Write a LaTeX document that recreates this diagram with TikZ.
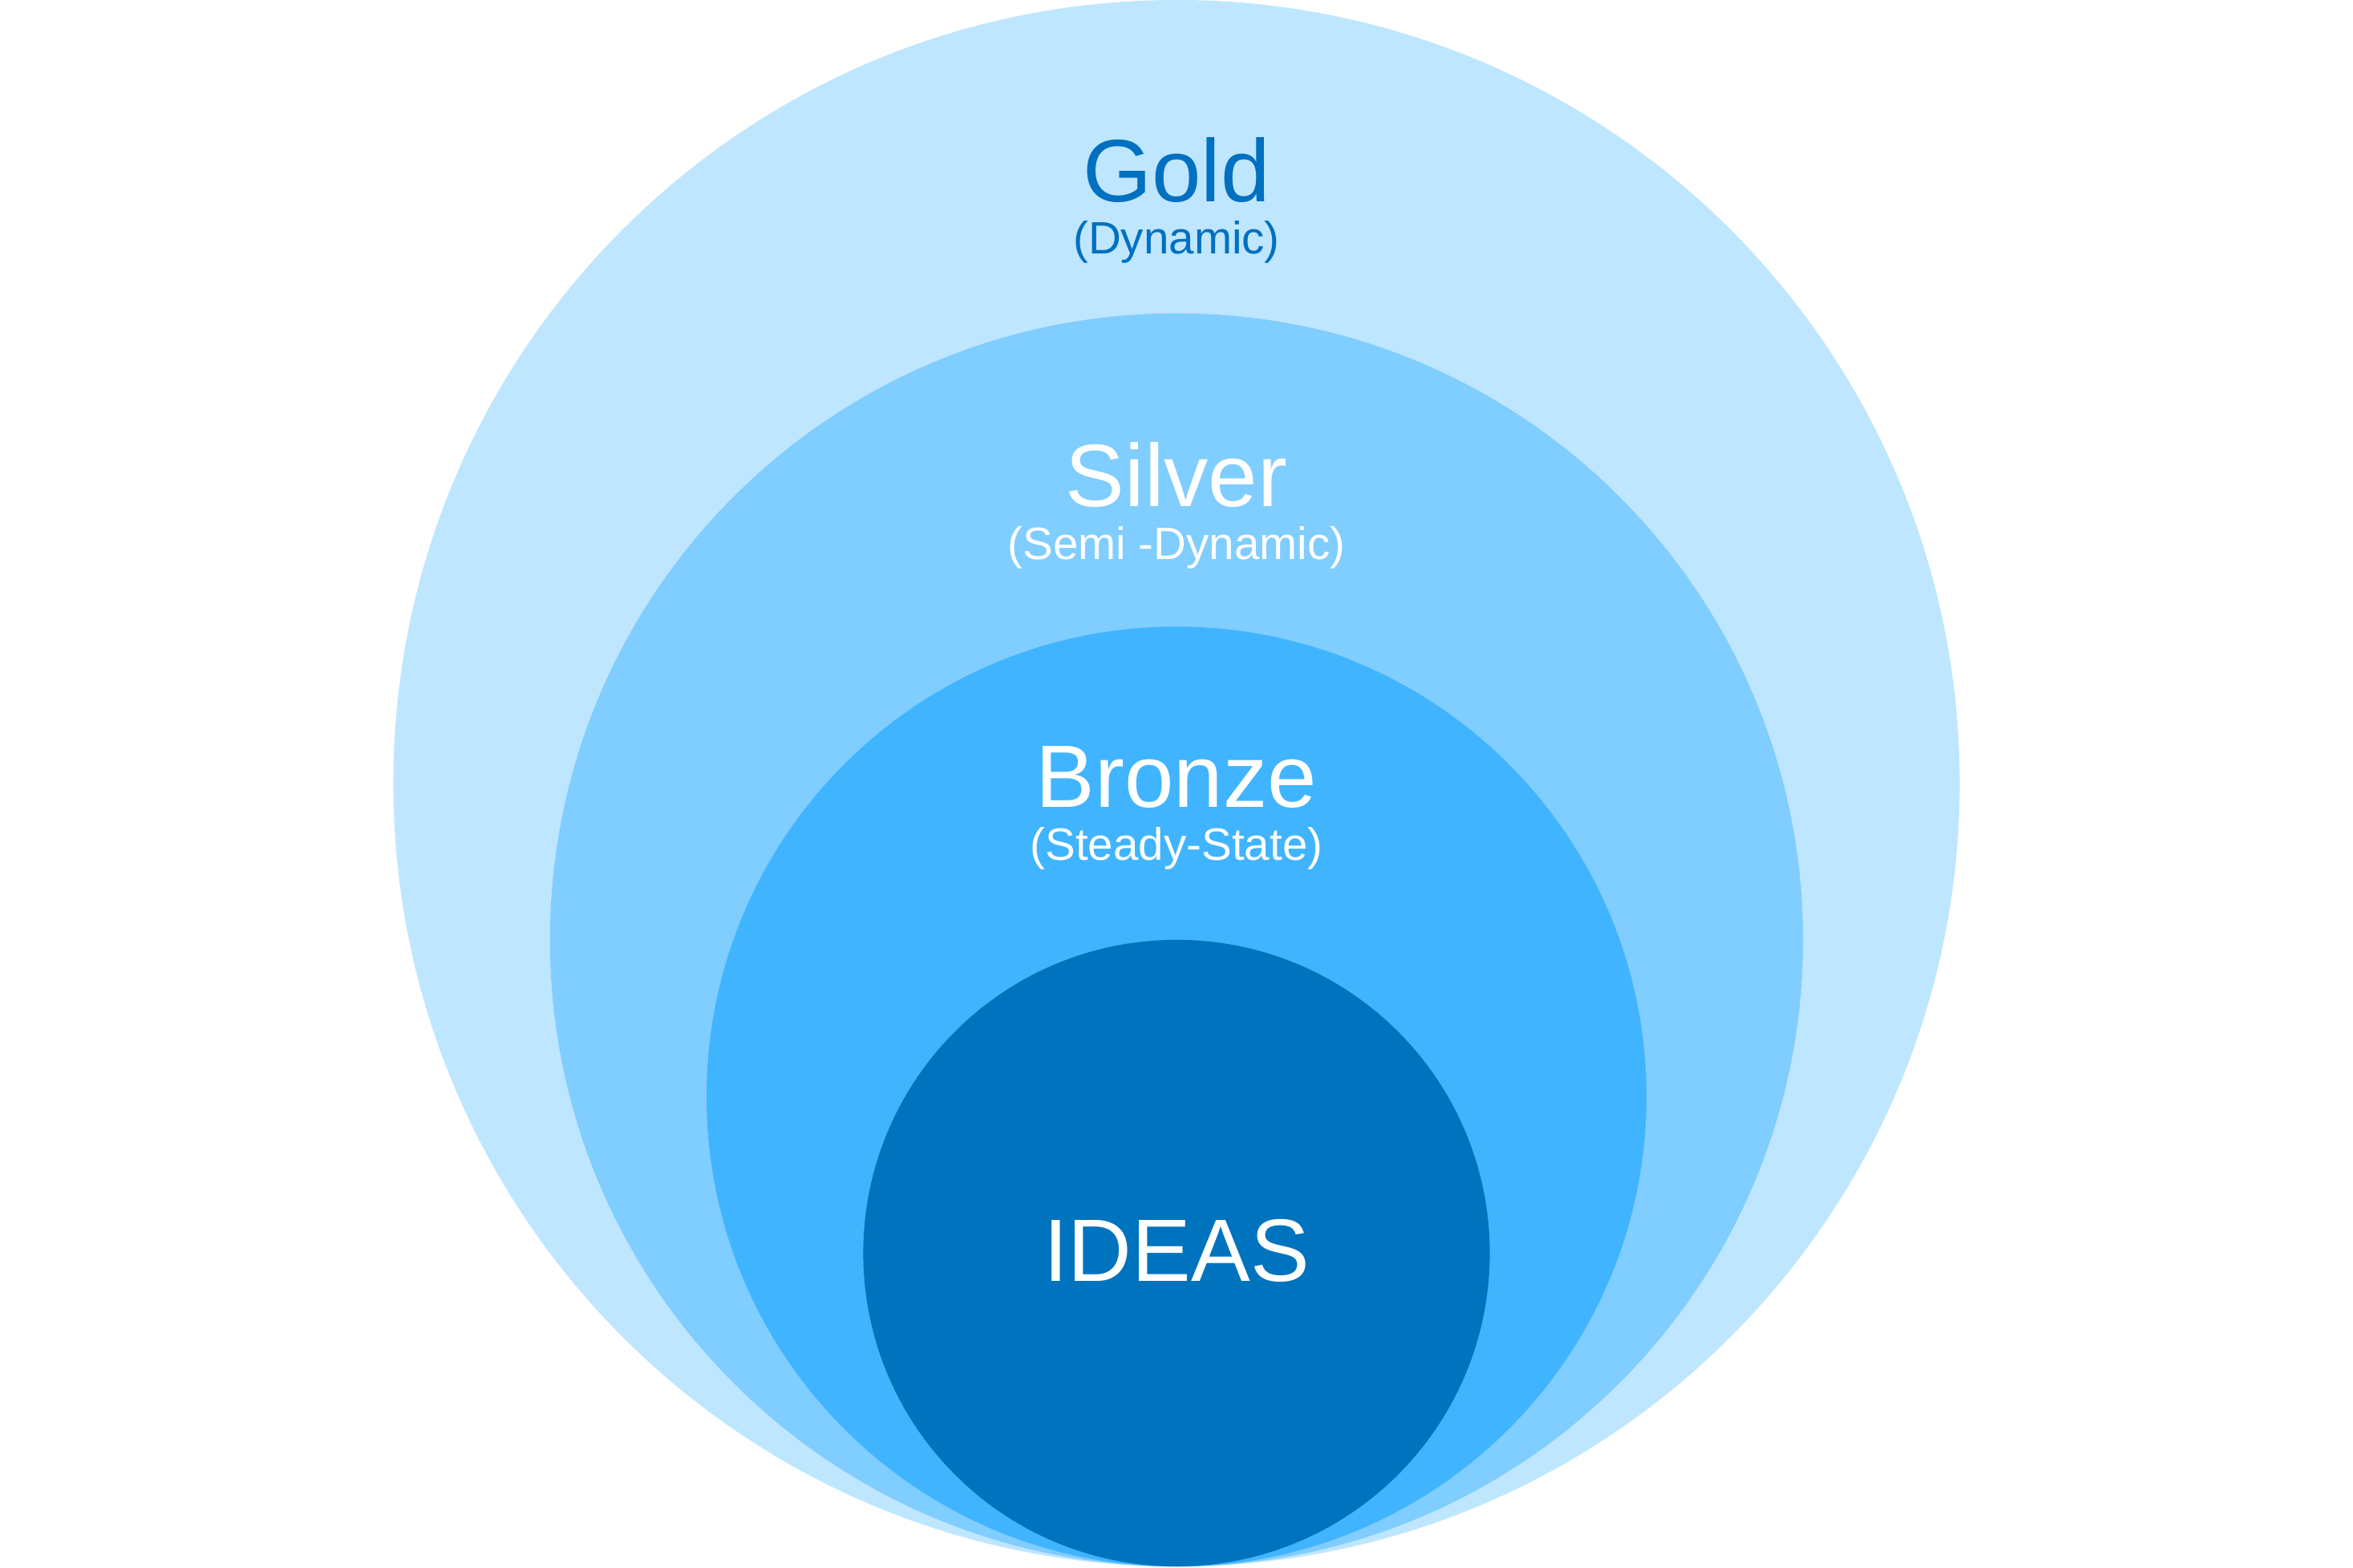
\documentclass[tikz,border=0pt]{standalone}
\usepackage{fontspec}
\setmainfont{Liberation Sans}
\usepackage{xcolor}
\definecolor{goldfill}{RGB}{191, 230, 255}
\definecolor{silverfill}{RGB}{128, 205, 255}
\definecolor{bronzefill}{RGB}{64, 180, 255}
\definecolor{ideasfill}{RGB}{0, 115, 190}
\definecolor{goldtext}{RGB}{0, 112, 192}
\tikzset{ring/.style={circle,inner sep=0pt,draw=none},
  bigtext/.style={anchor=base,inner sep=0pt,font=\fontsize{16.8}{20}\selectfont},
  subtext/.style={anchor=base,inner sep=0pt,font=\fontsize{8.6}{10}\selectfont}}

\begin{document}
\begin{tikzpicture}
\useasboundingbox (0,0) rectangle (15.68,10.448);
\node[ring,fill=goldfill,minimum size=10.438cm] (gold) at (7.84,5.229) {};
\node[ring,fill=silverfill,minimum size=8.350cm] (silver) at (7.84,4.185) {};
\node[ring,fill=bronzefill,minimum size=6.263cm] (bronze) at (7.84,3.141) {};
\node[ring,fill=ideasfill,minimum size=4.175cm] (ideas) at (7.84,2.098) {};
\node[bigtext,goldtext] (goldlbl) at (7.84,9.102) {Gold};
\node[subtext,goldtext] (goldsub) at (7.84,8.755) {(Dynamic)};
\node[bigtext,white] (silverlbl) at (7.84,7.071) {Silver};
\node[subtext,white] (silversub) at (7.84,6.718) {(Semi -Dynamic)};
\node[bigtext,white] (bronzelbl) at (7.84,5.067) {Bronze};
\node[subtext,white] (bronzesub) at (7.84,4.714) {(Steady-State)};
\node[bigtext,white] (ideaslbl) at (7.84,1.908) {IDEAS};
\end{tikzpicture}
\end{document}
